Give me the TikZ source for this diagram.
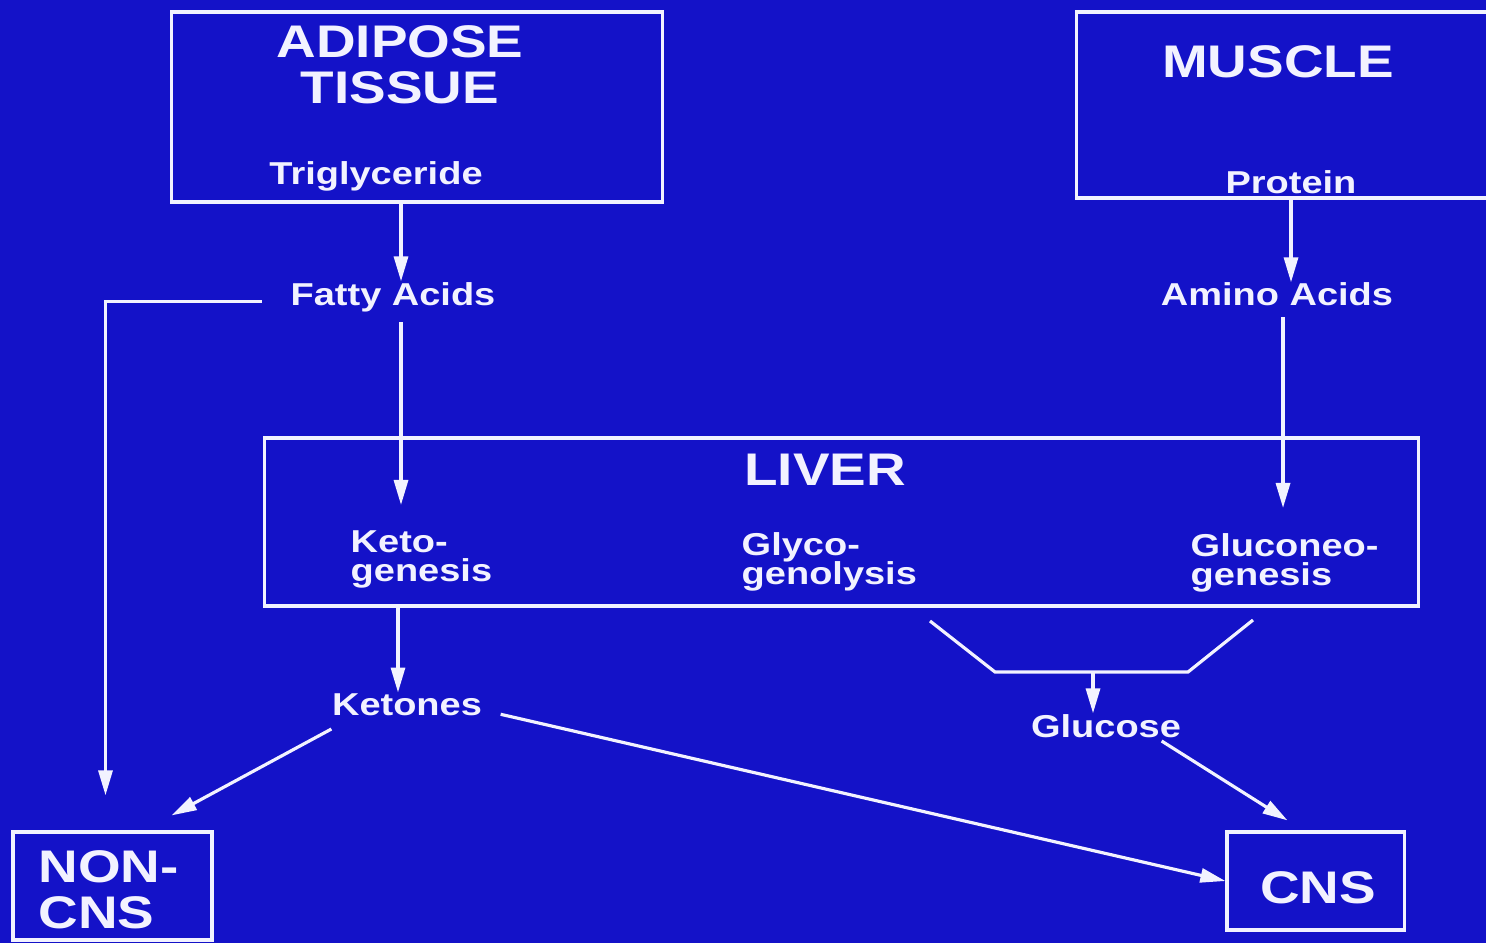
\documentclass[tikz,border=0pt]{standalone}
\usepackage{fontspec}
\setmainfont{Liberation Sans}[FakeStretch=1.2]
\usetikzlibrary{arrows.meta, positioning, calc}
\definecolor{slideblue}{RGB}{20,18,200}
\definecolor{slidewhite}{RGB}{242,242,255}

\begin{document}
\begin{tikzpicture}[x=0.01cm, y=-0.01cm,
      box/.style={rectangle, draw=slidewhite, line width=0.9pt, inner sep=0pt},
      title/.style={text=slidewhite, inner sep=0pt, font=\fontsize{13}{13}\selectfont\bfseries},
      txt/.style={text=slidewhite, inner sep=0pt, font=\fontsize{9}{8.2}\selectfont\bfseries},
      arr/.style={-{Triangle[length=0.25cm, width=0.14cm]}, line width=0.9pt, slidewhite},
      link/.style={line width=0.9pt, slidewhite}
    ]
      \lineskiplimit=-5pt
      \fill[slideblue] (0,0) rectangle (1486,943);
      \useasboundingbox (0,0) rectangle (1486,943);
      \clip (0,0) rectangle (1486,943);

      % boxes
      \node[box, minimum width=4.90cm, minimum height=1.90cm] (adipose) at (417,107) {};
      \node[box, minimum width=4.23cm, minimum height=1.86cm] (muscle) at (1288.5,105) {};
      \node[box, minimum width=11.53cm, minimum height=1.68cm] (liver) at (841.5,522) {};
      \node[box, minimum width=1.99cm, minimum height=1.08cm] (noncns) at (112.5,886) {};
      \node[box, minimum width=1.77cm, minimum height=0.98cm] (cns) at (1315.5,881) {};

      % texts
      \node[title, align=center, anchor=north] (adiposetitle) at (400,25) {ADIPOSE\\TISSUE};
      \node[txt, anchor=base] (trig) at (376,185) {Triglyceride};
      \node[title, anchor=base] (muscletitle) at (1278,78) {MUSCLE};
      \node[txt, anchor=base] (protein) at (1291,194) {Protein};
      \node[txt, anchor=base] (fatty) at (393,305) {Fatty Acids};
      \node[txt, anchor=base] (amino) at (1277,306) {Amino Acids};
      \node[title, anchor=base] (livertitle) at (825,485) {LIVER};
      \node[txt, align=left, anchor=north west] (keto) at (350,530) {Keto-\\genesis};
      \node[txt, align=left, anchor=north west] (glyco) at (741,532) {Glyco-\\genolysis};
      \node[txt, align=left, anchor=north west] (gluco) at (1190,533) {Gluconeo-\\genesis};
      \node[txt, anchor=base] (ketones) at (407,715) {Ketones};
      \node[txt, anchor=base] (glucose) at (1106,737) {Glucose};
      \node[title, align=left, anchor=north west] (noncnstitle) at (38,850) {NON-\\CNS};
      \node[title, anchor=base] (cnstitle) at (1318,903) {CNS};

      \coordinate (glycoout) at (930,621);
      \coordinate (gluconeoout) at (1253,620);
      \coordinate (funnel) at (1093,672);

      % connectors
      \draw[arr] ([xshift=0.08cm]fatty.north |- adipose.south) -- ([xshift=0.08cm]fatty.north);
      \draw[arr, shorten <=0.1cm, shorten >=0.25cm] ([xshift=0.08cm]fatty.south) -- ([xshift=0.08cm]fatty.south |- keto.north);
      \draw[arr, shorten >=0.35cm] ([xshift=-0.28cm, yshift=-0.05cm]fatty.west) -| ([xshift=-0.07cm]noncns.north);
      \draw[arr] (protein.north |- muscle.south) -- (protein.north |- amino.north);
      \draw[arr, shorten <=0.1cm, shorten >=0.25cm] ([xshift=0.06cm]amino.south) -- ([xshift=0.06cm]amino.south |- gluco.north);
      \draw[arr] ([xshift=-0.09cm]ketones.north |- liver.south) -- ([xshift=-0.09cm]ketones.north);
      \draw[arr] ([yshift=-0.13cm]ketones.south west) -- ([xshift=-0.42cm, yshift=0.15cm]noncns.north east);
      \draw[arr] ([xshift=0.18cm, yshift=-0.1cm]ketones.east) -- (cns.west);
      \draw[link] (glycoout) -- (995,672) -- (1188,672) -- (gluconeoout);
      \draw[arr] (funnel) -- (funnel |- glucose.north);
      \draw[arr] ([xshift=-0.2cm, yshift=-0.03cm]glucose.south east) -- ([xshift=-0.28cm, yshift=0.1cm]cns.north);
    \end{tikzpicture}
\end{document}
